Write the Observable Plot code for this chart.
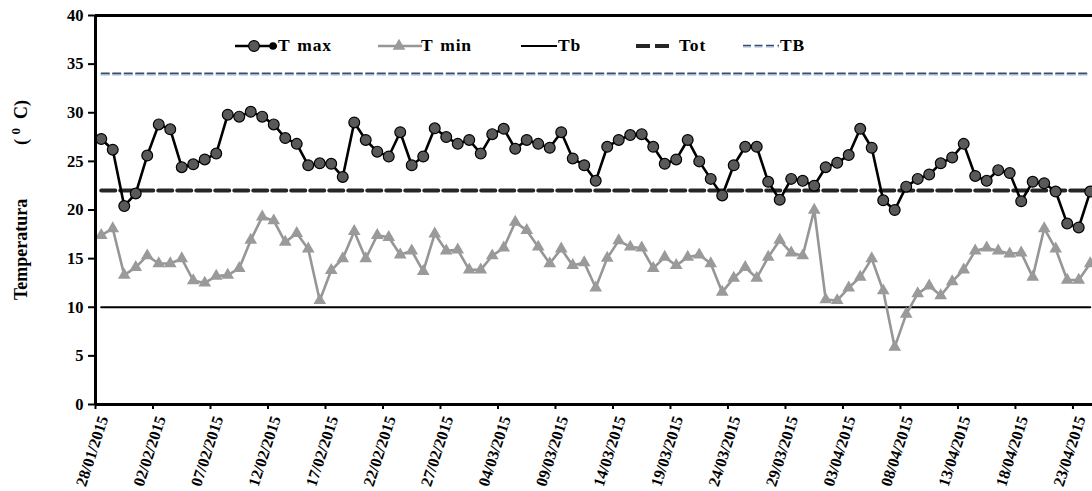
<!DOCTYPE html>
<html>
<head>
<meta charset="utf-8">
<script src="https://cdn.jsdelivr.net/npm/d3@7"></script>
<script src="https://cdn.jsdelivr.net/npm/@observablehq/plot@0.6"></script>
<style>
  html, body { margin: 0; padding: 0; background: #fff; }
  #wrap { position: relative; width: 1092px; height: 491px; overflow: hidden; font-family: "Liberation Serif", "Times New Roman", serif; font-weight: bold; }
  .lg-sw { position: absolute; top: 36px; }
  .lg-tx { position: absolute; top: 35px; font-size: 17.5px; line-height: 20px; color: #000; white-space: pre; letter-spacing: 0.8px; word-spacing: 2px; }
</style>
</head>
<body>
<div id="wrap"></div>
<script>
// ---------- data ----------
const tickLabels = ["28/01/2015","02/02/2015","07/02/2015","12/02/2015","17/02/2015","22/02/2015",
  "27/02/2015","04/03/2015","09/03/2015","14/03/2015","19/03/2015","24/03/2015","29/03/2015",
  "03/04/2015","08/04/2015","13/04/2015","18/04/2015","23/04/2015"];
const tickEvery = 5; // days between labelled ticks
const yTicks = [0, 5, 10, 15, 20, 25, 30, 35, 40];
const seriesNames = ["T max", "T min", "Tb", "Tot", "TB"];

const tMax = [27.3, 26.2, 20.4, 21.7, 25.6, 28.8, 28.3, 24.4, 24.7, 25.2, 25.8, 29.8, 29.6, 30.1, 29.6, 28.8,
  27.4, 26.8, 24.6, 24.8, 24.75, 23.4, 29.0, 27.2, 26.0, 25.5, 28.0, 24.6, 25.5, 28.4, 27.5, 26.8,
  27.2, 25.8, 27.8, 28.35, 26.3, 27.2, 26.8, 26.4, 28.0, 25.3, 24.6, 23.0, 26.5, 27.2, 27.7, 27.8,
  26.5, 24.75, 25.2, 27.2, 25.0, 23.2, 21.5, 24.6, 26.5, 26.5, 22.9, 21.05, 23.2, 23.0, 22.5, 24.4,
  24.85, 25.65, 28.35, 26.4, 21.0, 20.0, 22.4, 23.2, 23.65, 24.8, 25.4, 26.8, 23.5, 23.0, 24.1, 23.8,
  20.9, 22.9, 22.75, 21.9, 18.6, 18.2, 21.9];
const tMin = [17.4, 18.1, 13.3, 14.1, 15.3, 14.5, 14.5, 15.0, 12.75, 12.5, 13.2, 13.3, 14.0, 16.9, 19.3, 18.9,
  16.7, 17.6, 16.0, 10.7, 13.8, 15.0, 17.8, 15.0, 17.4, 17.2, 15.4, 15.8, 13.7, 17.55, 15.8, 15.9,
  13.85, 13.85, 15.3, 16.1, 18.75, 17.9, 16.2, 14.5, 16.0, 14.3, 14.6, 12.0, 15.05, 16.85, 16.2, 16.1,
  14.0, 15.15, 14.3, 15.15, 15.4, 14.5, 11.55, 13.0, 14.1, 13.0, 15.15, 16.9, 15.6, 15.3, 20.0, 10.8,
  10.7, 12.0, 13.1, 15.0, 11.7, 5.9, 9.3, 11.4, 12.2, 11.2, 12.65, 13.85, 15.8, 16.1, 15.8, 15.5,
  15.6, 13.1, 18.1, 16.0, 12.8, 12.8, 14.5];
const Tb = 10;
const Tot = 22;
const TB = 34;

// ---------- derived ----------
const days = d3.range(tMax.length);          // day index (category)
const xc = i => i + 0.5;                      // category centre
const xTicks = tickLabels.map((_, k) => k * tickEvery);
const yMax = d3.max(yTicks);

const serif = "'Liberation Serif', 'Times New Roman', serif";

const chart = Plot.plot({
  width: 1092,
  height: 491,
  marginLeft: 95,
  marginRight: 0,
  marginTop: 15,
  marginBottom: 87,
  x: {domain: [0, 86.7]},
  y: {domain: [0, yMax]},
  style: {fontFamily: serif, fontWeight: "bold", background: "#fff", color: "#000"},
  marks: [
    // reference lines
    Plot.lineY(days, {x: xc, y: () => Tb, stroke: "#000", strokeWidth: 2.2}),
    Plot.lineY(days, {x: xc, y: () => Tot, stroke: "#262626", strokeWidth: 4, strokeDasharray: "14,5"}),
    Plot.lineY(days, {x: xc, y: () => TB, stroke: "#9db5d8", strokeWidth: 1.6, strokeDasharray: "8,3.5", dy: 0.8}),
    Plot.lineY(days, {x: xc, y: () => TB, stroke: "#3c4b68", strokeWidth: 1.3, strokeDasharray: "8,3.5", dy: -0.6}),
    // T min
    Plot.lineY(days, {x: xc, y: i => tMin[i], stroke: "#969696", strokeWidth: 2.6}),
    Plot.dot(days, {x: xc, y: i => tMin[i], symbol: "triangle", r: 4.7, fill: "#9a9a9a", stroke: "none"}),
    // T max
    Plot.lineY(days, {x: xc, y: i => tMax[i], stroke: "#000", strokeWidth: 2.6}),
    Plot.dot(days, {x: xc, y: i => tMax[i], r: 5.4, fill: "#595959", stroke: "#000", strokeWidth: 1.2}),
    // frame
    Plot.ruleY([0], {stroke: "#000", strokeWidth: 3}),
    Plot.ruleY([yMax], {stroke: "#000", strokeWidth: 3}),
    Plot.ruleX([0], {stroke: "#000", strokeWidth: 3}),
    // axes
    Plot.axisY({ticks: yTicks, tickSize: 7, tickPadding: 5, strokeWidth: 2, fontSize: 16.5, fontWeight: "bold", label: null}),
    Plot.axisX({ticks: xTicks, tickSize: 5, strokeWidth: 2, tickFormat: () => "", label: null}),
    Plot.axisX({ticks: xTicks, tickFormat: d => tickLabels[d / tickEvery], tickRotate: -72, tickSize: 0,
      tickPadding: 12, dx: 8, fontSize: 16, fontWeight: "bold", label: null})
  ]
});

const wrap = document.getElementById("wrap");
wrap.appendChild(chart);

// y-axis title
const svg = d3.select(chart);
svg.append("text")
  .attr("transform", "translate(27,300) rotate(-90)")
  .attr("text-anchor", "start")
  .attr("font-family", serif).attr("font-weight", "bold").attr("font-size", 18).attr("fill", "#000")
  .text("Temperatura");
const unit = svg.append("text")
  .attr("transform", "translate(27,100) rotate(-90)")
  .attr("text-anchor", "end")
  .attr("font-family", serif).attr("font-weight", "bold").attr("font-size", 18).attr("fill", "#000")
  .style("white-space", "pre");
unit.append("tspan").text("(\u00a0");
unit.append("tspan").attr("font-size", 13).attr("dy", -7).text("0");
unit.append("tspan").attr("dy", 7).text("\u00a0\u00a0C)");

// ---------- legend ----------
const legendItems = [
  {name: seriesNames[0], sx: 235, w: 42, tx: 278,
   draw: g => { g.append("line").attr("x1",0).attr("x2",42).attr("y1",10).attr("y2",10).attr("stroke","#000").attr("stroke-width",2.6);
                g.append("circle").attr("cx",19).attr("cy",10).attr("r",5.4).attr("fill","#595959").attr("stroke","#000").attr("stroke-width",1.2);
                g.append("circle").attr("cx",38).attr("cy",10).attr("r",3.8).attr("fill","#000"); }},
  {name: seriesNames[1], sx: 378, w: 44, tx: 421,
   draw: g => { g.append("line").attr("x1",0).attr("x2",44).attr("y1",10).attr("y2",10).attr("stroke","#969696").attr("stroke-width",2.6);
                g.append("path").attr("d", d3.symbol(d3.symbolTriangle, Math.PI*4.7*4.7)()).attr("transform","translate(21,10)").attr("fill","#9a9a9a"); }},
  {name: seriesNames[2], sx: 521, w: 36, tx: 558,
   draw: g => { g.append("line").attr("x1",0).attr("x2",36).attr("y1",10).attr("y2",10).attr("stroke","#000").attr("stroke-width",2.2); }},
  {name: seriesNames[3], sx: 636, w: 34, tx: 679,
   draw: g => { g.append("line").attr("x1",0).attr("x2",34).attr("y1",10).attr("y2",10).attr("stroke","#262626").attr("stroke-width",4).attr("stroke-dasharray","14,5"); }},
  {name: seriesNames[4], sx: 743, w: 36, tx: 780,
   draw: g => { g.append("line").attr("x1",0).attr("x2",36).attr("y1",10.8).attr("y2",10.8).attr("stroke","#9db5d8").attr("stroke-width",1.6).attr("stroke-dasharray","8,3.5");
                g.append("line").attr("x1",0).attr("x2",36).attr("y1",9.4).attr("y2",9.4).attr("stroke","#3c4b68").attr("stroke-width",1.3).attr("stroke-dasharray","8,3.5"); }}
];
for (const it of legendItems) {
  const sw = d3.select(wrap).append("svg").attr("class","lg-sw").attr("width", it.w).attr("height", 20)
    .style("left", it.sx + "px");
  it.draw(sw);
  d3.select(wrap).append("div").attr("class","lg-tx").style("left", it.tx + "px").text(it.name);
}
</script>
</body>
</html>
